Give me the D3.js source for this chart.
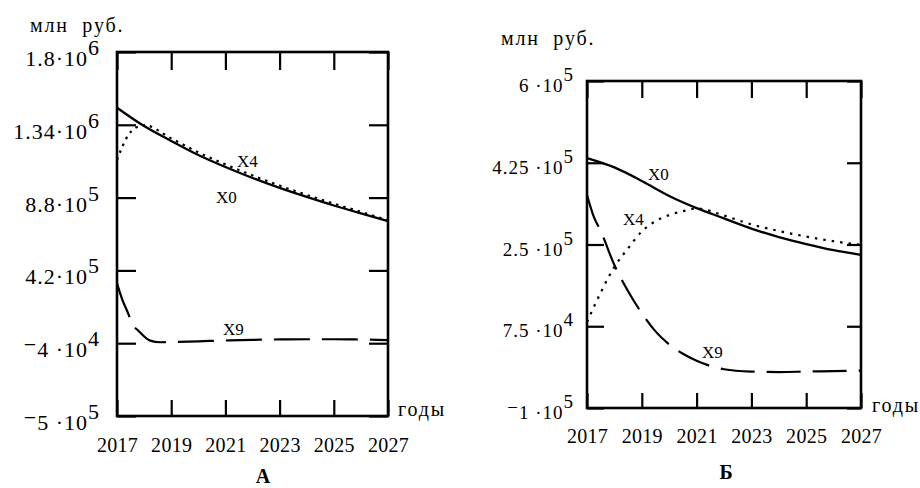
<!DOCTYPE html>
<html>
<head>
<meta charset="utf-8">
<script src="https://cdn.jsdelivr.net/npm/d3@7"></script>
<style>
  body { margin: 0; background: #fff; }
</style>
</head>
<body>
<script>
// ---- data ----
var yearTicks = [2017, 2019, 2021, 2023, 2025, 2027];
var years = [2017, 2018, 2019, 2020, 2021, 2022, 2023, 2024, 2025, 2026, 2027];

// panel A
var aYTicks = [-5e5, -4e4, 4.2e5, 8.8e5, 1.34e6, 1.8e6];
var aYMant = ["\u22125 \u00b710", "\u22124 \u00b710", "4.2\u00b710", "8.8\u00b710", "1.34\u00b710", "1.8\u00b710"];
var aYExp = ["5", "4", "5", "5", "6", "6"];

var aX0 = [1448000, 1332000, 1238000, 1149000, 1073000, 1004000, 941000, 884000, 830000, 780000, 732000];
var aX4Years = [2017, 2017.17, 2017.42, 2017.66, 2018, 2019, 2020, 2021, 2022, 2023, 2024, 2025, 2026, 2027];
var aX4 = [1118000, 1191000, 1276000, 1318000, 1338000, 1254000, 1166000, 1090000, 1020000, 956000, 897000, 842000, 790000, 737000];
var aX9Years = [2017, 2017.2, 2017.4, 2017.55, 2017.8, 2018.2, 2018.6, 2019, 2020, 2021, 2022, 2023, 2024, 2025, 2026, 2027];
var aX9 = [338000, 233000, 153000, 86000, 37000, -22000, -34000, -33000, -28000, -23000, -19000, -16000, -15000, -15000, -17000, -20000];

// panel B
var bYTicks = [-1e5, 7.5e4, 2.5e5, 4.25e5, 6e5];
var bYMant = ["\u22121 \u00b710", "7.5 \u00b710", "2.5 \u00b710", "4.25 \u00b710", "6 \u00b710"];
var bYExp = ["5", "4", "5", "5", "5"];

var bX0 = [435000, 415000, 386000, 354000, 328000, 306000, 284000, 266000, 251000, 238000, 228000];
var bX4Years = [2017, 2017.5, 2018, 2018.5, 2019, 2019.5, 2020, 2020.5, 2021, 2022, 2023, 2024, 2025, 2026, 2027];
var bX4 = [84000, 147000, 202000, 242000, 278000, 300000, 313000, 321000, 327000, 312000, 293000, 279000, 267000, 257000, 249000];
var bX9Years = [2017, 2017.25, 2017.5, 2018, 2018.5, 2019, 2019.5, 2020, 2020.5, 2021, 2021.5, 2022, 2023, 2024, 2025, 2026, 2027];
var bX9 = [356000, 309000, 279000, 206000, 150000, 103000, 64000, 36000, 16000, 1000, -10000, -17000, -22000, -23000, -22000, -21000, -20000];

var serif = "'Liberation Serif', 'DejaVu Serif', serif";

var svg = d3.select("body").append("svg")
    .attr("width", 920)
    .attr("height", 488)
    .attr("font-family", serif);

var panels = [
  { left: 117, right: 388, top: 52, bottom: 416, dom: [-5e5, 1.8e6],
    yTicks: aYTicks, mant: aYMant, exp: aYExp, labFont: 22, labEnd: 100, labDy: 14, supDy: -11,
    tickL: 19, tickT: 18, tickR: 19, tickB: 16, pad: 22,
    unitX: 30, unitY: 32, yearsX: 398, yearsY: 416, title: "А", titleX: 263, titleY: 483,
    series: [
      { x: years, y: aX0, dash: null, w: 2.3 },
      { x: aX4Years, y: aX4, dash: "2.5,5", w: 2.2 },
      { x: aX9Years, y: aX9, dash: "36,12", w: 2.2 }
    ],
    names: [["X4", 237, 167], ["X0", 216, 203], ["X9", 223, 335]] },
  { left: 587, right: 861, top: 81, bottom: 408, dom: [-1e5, 6e5],
    yTicks: bYTicks, mant: bYMant, exp: bYExp, labFont: 19, labEnd: 574, labDy: 11, supDy: -11,
    tickL: 17, tickT: 17, tickR: 14, tickB: 15, pad: 21,
    unitX: 501, unitY: 45, yearsX: 872, yearsY: 412, title: "Б", titleX: 726, titleY: 479,
    series: [
      { x: years, y: bX0, dash: null, w: 2.3 },
      { x: bX4Years, y: bX4, dash: "2.5,6", w: 2.2 },
      { x: bX9Years, y: bX9, dash: "34,12", w: 2.2 }
    ],
    names: [["X0", 648, 180], ["X4", 623, 225], ["X9", 702, 358]] }
];

panels.forEach(function (p) {
  var x = d3.scaleLinear().domain([2017, 2027]).range([p.left, p.right]);
  var y = d3.scaleLinear().domain(p.dom).range([p.bottom, p.top]);
  var g = svg.append("g");

  // inward ticks on all four sides
  g.append("g").attr("transform", "translate(0," + p.bottom + ")")
    .call(d3.axisBottom(x).tickValues(yearTicks).tickSize(-p.tickB).tickSizeOuter(0)
      .tickPadding(p.pad).tickFormat(d3.format("d")));
  g.append("g").attr("transform", "translate(0," + p.top + ")")
    .call(d3.axisTop(x).tickValues(yearTicks).tickSize(-p.tickT).tickSizeOuter(0).tickFormat(""));
  g.append("g").attr("transform", "translate(" + p.left + ",0)")
    .call(d3.axisLeft(y).tickValues(p.yTicks).tickSize(-p.tickL).tickSizeOuter(0).tickFormat(""));
  g.append("g").attr("transform", "translate(" + p.right + ",0)")
    .call(d3.axisRight(y).tickValues(p.yTicks).tickSize(-p.tickR).tickSizeOuter(0).tickFormat(""));

  g.selectAll(".domain").remove();
  g.selectAll("g").attr("font-family", serif);
  g.selectAll(".tick line").attr("stroke", "#000").attr("stroke-width", 2.2);
  g.selectAll(".tick text").attr("font-family", serif).attr("font-size", 20)
    .attr("letter-spacing", 0.3).attr("fill", "#000");

  g.append("rect")
    .attr("x", p.left).attr("y", p.top)
    .attr("width", p.right - p.left).attr("height", p.bottom - p.top)
    .attr("fill", "none").attr("stroke", "#000").attr("stroke-width", 2.6);

  // y labels  mantissa·10^exp
  p.yTicks.forEach(function (v, i) {
    var t = g.append("text")
      .attr("x", p.labEnd).attr("y", y(v) + p.labDy)
      .attr("text-anchor", "end")
      .attr("font-family", serif)
      .attr("letter-spacing", 1)
      .attr("font-size", p.labFont);
    var m = p.mant[i];
    if (m.charAt(0) === "\u2212") {
      t.append("tspan").attr("dy", -5).text("\u2212");
      t.append("tspan").attr("dy", 5).text(m.slice(1));
    } else {
      t.append("tspan").text(m);
    }
    t.append("tspan").attr("dy", p.supDy).text(p.exp[i]);
  });

  var line = d3.line()
    .x(function (d) { return x(d[0]); })
    .y(function (d) { return y(d[1]); })
    .curve(d3.curveMonotoneX);

  p.series.forEach(function (s) {
    g.append("path")
      .datum(d3.zip(s.x, s.y))
      .attr("d", line)
      .attr("fill", "none")
      .attr("stroke", "#000")
      .attr("stroke-width", s.w)
      .attr("stroke-dasharray", s.dash);
  });

  p.names.forEach(function (n) {
    g.append("text").attr("x", n[1]).attr("y", n[2])
      .attr("font-family", serif).attr("font-size", 17).text(n[0]);
  });

  g.append("text").attr("x", p.unitX).attr("y", p.unitY)
    .attr("font-family", serif).attr("font-size", 20).attr("letter-spacing", 1.8)
    .style("white-space", "pre").text("млн  руб.");
  g.append("text").attr("x", p.yearsX).attr("y", p.yearsY)
    .attr("font-family", serif).attr("font-size", 20).attr("letter-spacing", 1.8).text("годы");
  g.append("text").attr("x", p.titleX).attr("y", p.titleY).attr("text-anchor", "middle")
    .attr("font-family", serif).attr("font-size", 20).attr("font-weight", "bold").text(p.title);
});
</script>
</body>
</html>
